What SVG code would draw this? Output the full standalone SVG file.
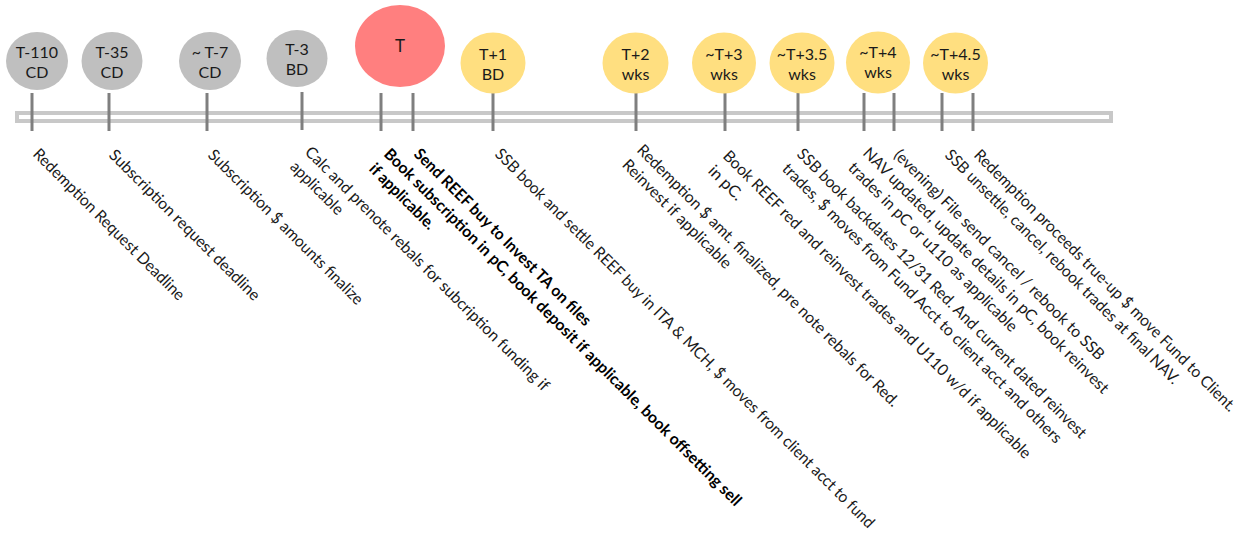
<svg xmlns="http://www.w3.org/2000/svg" width="1249" height="533" viewBox="0 0 1249 533">
<style>
.bg{fill:#ffffff}
.gray{fill:#bfbfbf}
.red{fill:#ff7f7f}
.yel{fill:#ffdf80}
.clbl{font-family:Lato,"Liberation Sans",sans-serif;font-size:16px;fill:#1a1a1a;text-anchor:middle}
.lbl{font-family:Lato,"Liberation Sans",sans-serif;font-size:16px;fill:#1a1a1a}
.b{font-weight:bold;fill:#000}
.tick{stroke:#7f7f7f;stroke-width:3}
.bar{fill:#ffffff;stroke:#c8c8c8;stroke-width:4}
</style>
<rect class="bg" x="0" y="0" width="1249" height="533"/>
<g id="timeline">
<rect class="bar" x="17" y="113" width="1094" height="8"/>
</g>
<g id="connectors">
<line class="tick" x1="32" y1="93" x2="32" y2="131"/>
<line class="tick" x1="109" y1="93" x2="109" y2="131"/>
<line class="tick" x1="207" y1="93" x2="207" y2="131"/>
<line class="tick" x1="302" y1="92" x2="302" y2="130"/>
<line class="tick" x1="381" y1="93" x2="381" y2="131"/>
<line class="tick" x1="413" y1="93" x2="413" y2="131"/>
<line class="tick" x1="493" y1="93" x2="493" y2="131"/>
<line class="tick" x1="636" y1="93" x2="636" y2="131"/>
<line class="tick" x1="725" y1="93" x2="725" y2="131"/>
<line class="tick" x1="798" y1="93" x2="798" y2="131"/>
<line class="tick" x1="864" y1="93" x2="864" y2="131"/>
<line class="tick" x1="894" y1="93" x2="894" y2="131"/>
<line class="tick" x1="942" y1="93" x2="942" y2="131"/>
<line class="tick" x1="973" y1="93" x2="973" y2="131"/>
</g>
<g id="node-t110"><ellipse class="gray" cx="37" cy="61" rx="31" ry="29"/><text class="clbl" x="37" y="58">T-110</text><text class="clbl" x="37" y="78">CD</text></g>
<g id="node-t35"><ellipse class="gray" cx="112" cy="61" rx="30.5" ry="29"/><text class="clbl" x="112" y="58">T-35</text><text class="clbl" x="112" y="78">CD</text></g>
<g id="node-t7"><ellipse class="gray" cx="210" cy="61" rx="31" ry="29"/><text class="clbl" x="210" y="58">~ T-7</text><text class="clbl" x="210" y="78">CD</text></g>
<g id="node-t3"><ellipse class="gray" cx="297" cy="58.5" rx="30.5" ry="28.5"/><text class="clbl" x="297" y="55">T-3</text><text class="clbl" x="297" y="75">BD</text></g>
<g id="node-t"><ellipse class="red" cx="400" cy="46" rx="45" ry="41"/><text class="clbl" x="400" y="52" style="font-size:17px">T</text></g>
<g id="node-t1"><ellipse class="yel" cx="493" cy="63" rx="32.5" ry="30.5"/><text class="clbl" x="493" y="60">T+1</text><text class="clbl" x="493" y="80">BD</text></g>
<g id="node-t2w"><ellipse class="yel" cx="635.5" cy="63" rx="33" ry="30.5"/><text class="clbl" x="635.5" y="60">T+2</text><text class="clbl" x="635.5" y="80">wks</text></g>
<g id="node-t3w"><ellipse class="yel" cx="724" cy="63" rx="32" ry="30.5"/><text class="clbl" x="724" y="60">~T+3</text><text class="clbl" x="724" y="80">wks</text></g>
<g id="node-t35w"><ellipse class="yel" cx="802" cy="63" rx="32.5" ry="30.5"/><text class="clbl" x="802" y="60">~T+3.5</text><text class="clbl" x="802" y="80">wks</text></g>
<g id="node-t4w"><ellipse class="yel" cx="878" cy="62.5" rx="32" ry="31"/><text class="clbl" x="878" y="58">~T+4</text><text class="clbl" x="878" y="78">wks</text></g>
<g id="node-t45w"><ellipse class="yel" cx="955.5" cy="63" rx="32.5" ry="30.5"/><text class="clbl" x="955.5" y="60">~T+4.5</text><text class="clbl" x="955.5" y="80">wks</text></g>
<g id="labels">
<g id="ev1"><text class="lbl" transform="translate(32,155) rotate(45)" textLength="207" lengthAdjust="spacingAndGlyphs">Redemption Request Deadline</text></g>
<g id="ev2"><text class="lbl" transform="translate(108,156) rotate(45)" textLength="206" lengthAdjust="spacingAndGlyphs">Subscription request deadline</text></g>
<g id="ev3"><text class="lbl" transform="translate(207,156) rotate(45)" textLength="212" lengthAdjust="spacingAndGlyphs">Subscription $ amounts finalize</text></g>
<g id="ev4"><text class="lbl" transform="translate(304,153) rotate(45)" textLength="338" lengthAdjust="spacingAndGlyphs">Calc and prenote rebals for subcription funding if</text><text class="lbl" transform="translate(289.15,167.85) rotate(45)" textLength="68" lengthAdjust="spacingAndGlyphs">applicable</text></g>
<g id="ev5"><text class="lbl b" transform="translate(383,155) rotate(45)" textLength="498" lengthAdjust="spacingAndGlyphs">Book subscription in pC, book deposit if applicable, book offsetting sell</text><text class="lbl b" transform="translate(368.15,169.85) rotate(45)" textLength="86" lengthAdjust="spacingAndGlyphs">if applicable.</text></g>
<g id="ev6"><text class="lbl b" transform="translate(413,155) rotate(45)" textLength="243" lengthAdjust="spacingAndGlyphs">Send REEF buy to Invest TA on files</text></g>
<g id="ev7"><text class="lbl" transform="translate(494,155) rotate(45)" textLength="529" lengthAdjust="spacingAndGlyphs">SSB book and settle REEF buy in ITA &amp; MCH, $ moves from client acct to fund</text></g>
<g id="ev8"><text class="lbl" transform="translate(636,151) rotate(45)" textLength="363" lengthAdjust="spacingAndGlyphs">Redemption $ amt. finalized, pre note rebals for Red.</text><text class="lbl" transform="translate(621.15,165.85) rotate(45)" textLength="147" lengthAdjust="spacingAndGlyphs">Reinvest if applicable</text></g>
<g id="ev9"><text class="lbl" transform="translate(722,157) rotate(45)" textLength="428" lengthAdjust="spacingAndGlyphs">Book REEF red and reinvest trades and U110 w/d if applicable</text><text class="lbl" transform="translate(707.15,171.85) rotate(45)" textLength="42" lengthAdjust="spacingAndGlyphs">in pC.</text></g>
<g id="ev10"><text class="lbl" transform="translate(796,155) rotate(45)" textLength="402" lengthAdjust="spacingAndGlyphs">SSB book backdates 12/31 Red. And current dated reinvest</text><text class="lbl" transform="translate(781.15,169.85) rotate(45)" textLength="388" lengthAdjust="spacingAndGlyphs">trades, $ moves from Fund Acct to client acct and others</text></g>
<g id="ev11"><text class="lbl" transform="translate(862,154) rotate(45)" textLength="340" lengthAdjust="spacingAndGlyphs">NAV updated, update details in pC, book reinvest</text><text class="lbl" transform="translate(847.15,168.85) rotate(45)" textLength="232" lengthAdjust="spacingAndGlyphs">trades in pC or u110 as applicable</text></g>
<g id="ev12"><text class="lbl" transform="translate(893,156) rotate(45)" textLength="290" lengthAdjust="spacingAndGlyphs">(evening) File send cancel / rebook to SSB</text></g>
<g id="ev13"><text class="lbl" transform="translate(944,156) rotate(45)" textLength="324" lengthAdjust="spacingAndGlyphs">SSB unsettle, cancel, rebook trades at final NAV.</text></g>
<g id="ev14"><text class="lbl" transform="translate(973,156) rotate(45)" textLength="363" lengthAdjust="spacingAndGlyphs">Redemption proceeds true-up $ move Fund to Client.</text></g>
</g>
</svg>
